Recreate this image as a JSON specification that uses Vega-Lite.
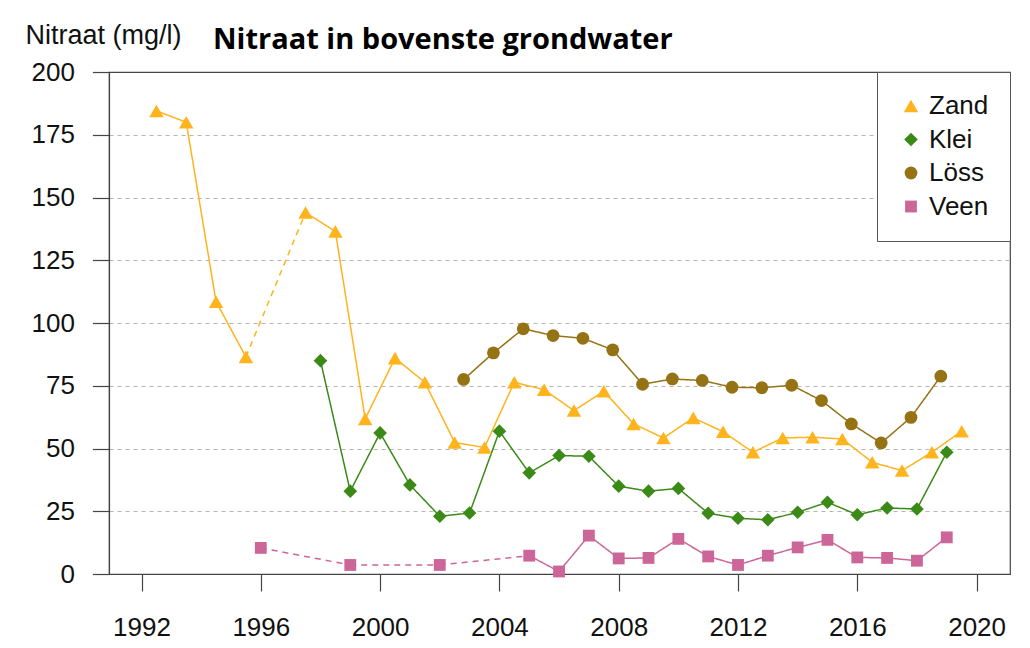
{
  "$schema": "https://vega.github.io/schema/vega-lite/v6.json",
  "width": 901,
  "height": 502,
  "autosize": {"type": "none"},
  "padding": {"left": 109, "top": 72, "right": 20, "bottom": 74},
  "background": "white",
  "title": {
    "text": "Nitraat in bovenste grondwater",
    "anchor": "start",
    "frame": "group",
    "dx": 104,
    "offset": -57,
    "baseline": "alphabetic",
    "font": "Open Sans",
    "fontWeight": 700,
    "fontSize": 29,
    "color": "#000000"
  },
  "datasets": {
    "metingen": [
      {"grondsoort": "Zand", "jaar": 1992.5, "nitraat": 184.5},
      {"grondsoort": "Zand", "jaar": 1993.5, "nitraat": 180},
      {"grondsoort": "Zand", "jaar": 1994.5, "nitraat": 108.5},
      {"grondsoort": "Zand", "jaar": 1995.5, "nitraat": 86.5},
      {"grondsoort": "Zand", "jaar": 1997.5, "nitraat": 144},
      {"grondsoort": "Zand", "jaar": 1998.5, "nitraat": 136.5},
      {"grondsoort": "Zand", "jaar": 1999.5, "nitraat": 61.8},
      {"grondsoort": "Zand", "jaar": 2000.5, "nitraat": 86},
      {"grondsoort": "Zand", "jaar": 2001.5, "nitraat": 76.4},
      {"grondsoort": "Zand", "jaar": 2002.5, "nitraat": 52.4},
      {"grondsoort": "Zand", "jaar": 2003.5, "nitraat": 50.4},
      {"grondsoort": "Zand", "jaar": 2004.5, "nitraat": 76.4},
      {"grondsoort": "Zand", "jaar": 2005.5, "nitraat": 73.4},
      {"grondsoort": "Zand", "jaar": 2006.5, "nitraat": 65.1},
      {"grondsoort": "Zand", "jaar": 2007.5, "nitraat": 72.8},
      {"grondsoort": "Zand", "jaar": 2008.5, "nitraat": 59.8},
      {"grondsoort": "Zand", "jaar": 2009.5, "nitraat": 54.2},
      {"grondsoort": "Zand", "jaar": 2010.5, "nitraat": 62.2},
      {"grondsoort": "Zand", "jaar": 2011.5, "nitraat": 56.7},
      {"grondsoort": "Zand", "jaar": 2012.5, "nitraat": 48.5},
      {"grondsoort": "Zand", "jaar": 2013.5, "nitraat": 54.2},
      {"grondsoort": "Zand", "jaar": 2014.5, "nitraat": 54.5},
      {"grondsoort": "Zand", "jaar": 2015.5, "nitraat": 53.8},
      {"grondsoort": "Zand", "jaar": 2016.5, "nitraat": 44.5},
      {"grondsoort": "Zand", "jaar": 2017.5, "nitraat": 41.2},
      {"grondsoort": "Zand", "jaar": 2018.5, "nitraat": 48.5},
      {"grondsoort": "Zand", "jaar": 2019.5, "nitraat": 56.9},
      {"grondsoort": "Klei", "jaar": 1998, "nitraat": 85},
      {"grondsoort": "Klei", "jaar": 1999, "nitraat": 33},
      {"grondsoort": "Klei", "jaar": 2000, "nitraat": 56.2},
      {"grondsoort": "Klei", "jaar": 2001, "nitraat": 35.5},
      {"grondsoort": "Klei", "jaar": 2002, "nitraat": 23},
      {"grondsoort": "Klei", "jaar": 2003, "nitraat": 24.3},
      {"grondsoort": "Klei", "jaar": 2004, "nitraat": 56.9},
      {"grondsoort": "Klei", "jaar": 2005, "nitraat": 40.3},
      {"grondsoort": "Klei", "jaar": 2006, "nitraat": 47.2},
      {"grondsoort": "Klei", "jaar": 2007, "nitraat": 46.9},
      {"grondsoort": "Klei", "jaar": 2008, "nitraat": 35},
      {"grondsoort": "Klei", "jaar": 2009, "nitraat": 33},
      {"grondsoort": "Klei", "jaar": 2010, "nitraat": 34.1},
      {"grondsoort": "Klei", "jaar": 2011, "nitraat": 24.2},
      {"grondsoort": "Klei", "jaar": 2012, "nitraat": 22.2},
      {"grondsoort": "Klei", "jaar": 2013, "nitraat": 21.6},
      {"grondsoort": "Klei", "jaar": 2014, "nitraat": 24.6},
      {"grondsoort": "Klei", "jaar": 2015, "nitraat": 28.6},
      {"grondsoort": "Klei", "jaar": 2016, "nitraat": 23.6},
      {"grondsoort": "Klei", "jaar": 2017, "nitraat": 26.3},
      {"grondsoort": "Klei", "jaar": 2018, "nitraat": 25.9},
      {"grondsoort": "Klei", "jaar": 2019, "nitraat": 48.5},
      {"grondsoort": "Löss", "jaar": 2002.8, "nitraat": 77.5},
      {"grondsoort": "Löss", "jaar": 2003.8, "nitraat": 88.1},
      {"grondsoort": "Löss", "jaar": 2004.8, "nitraat": 97.7},
      {"grondsoort": "Löss", "jaar": 2005.8, "nitraat": 95},
      {"grondsoort": "Löss", "jaar": 2006.8, "nitraat": 93.9},
      {"grondsoort": "Löss", "jaar": 2007.8, "nitraat": 89.3},
      {"grondsoort": "Löss", "jaar": 2008.8, "nitraat": 75.6},
      {"grondsoort": "Löss", "jaar": 2009.8, "nitraat": 77.7},
      {"grondsoort": "Löss", "jaar": 2010.8, "nitraat": 77.1},
      {"grondsoort": "Löss", "jaar": 2011.8, "nitraat": 74.4},
      {"grondsoort": "Löss", "jaar": 2012.8, "nitraat": 74.2},
      {"grondsoort": "Löss", "jaar": 2013.8, "nitraat": 75.2},
      {"grondsoort": "Löss", "jaar": 2014.8, "nitraat": 69.1},
      {"grondsoort": "Löss", "jaar": 2015.8, "nitraat": 59.8},
      {"grondsoort": "Löss", "jaar": 2016.8, "nitraat": 52.2},
      {"grondsoort": "Löss", "jaar": 2017.8, "nitraat": 62.4},
      {"grondsoort": "Löss", "jaar": 2018.8, "nitraat": 78.8},
      {"grondsoort": "Veen", "jaar": 1996, "nitraat": 10.4},
      {"grondsoort": "Veen", "jaar": 1999, "nitraat": 3.6},
      {"grondsoort": "Veen", "jaar": 2002, "nitraat": 3.6},
      {"grondsoort": "Veen", "jaar": 2005, "nitraat": 7.3},
      {"grondsoort": "Veen", "jaar": 2006, "nitraat": 1},
      {"grondsoort": "Veen", "jaar": 2007, "nitraat": 15.3},
      {"grondsoort": "Veen", "jaar": 2008, "nitraat": 6.2},
      {"grondsoort": "Veen", "jaar": 2009, "nitraat": 6.4},
      {"grondsoort": "Veen", "jaar": 2010, "nitraat": 14},
      {"grondsoort": "Veen", "jaar": 2011, "nitraat": 7},
      {"grondsoort": "Veen", "jaar": 2012, "nitraat": 3.6},
      {"grondsoort": "Veen", "jaar": 2013, "nitraat": 7.3},
      {"grondsoort": "Veen", "jaar": 2014, "nitraat": 10.6},
      {"grondsoort": "Veen", "jaar": 2015, "nitraat": 13.6},
      {"grondsoort": "Veen", "jaar": 2016, "nitraat": 6.6},
      {"grondsoort": "Veen", "jaar": 2017, "nitraat": 6.4},
      {"grondsoort": "Veen", "jaar": 2018, "nitraat": 5.3},
      {"grondsoort": "Veen", "jaar": 2019, "nitraat": 14.6}
    ]
  },
  "data": {"name": "metingen"},
  "encoding": {
    "x": {
      "field": "jaar",
      "type": "quantitative",
      "scale": {"domain": [1990.91, 2021.12], "nice": false, "zero": false},
      "axis": {
        "values": [1992, 1996, 2000, 2004, 2008, 2012, 2016, 2020],
        "format": "d",
        "title": null,
        "grid": false,
        "tickSize": 17,
        "labelPadding": 23,
        "labelFlush": false
      }
    },
    "y": {
      "field": "nitraat",
      "type": "quantitative",
      "scale": {"domain": [0, 200], "nice": false},
      "axis": {
        "values": [0, 25, 50, 75, 100, 125, 150, 175, 200],
        "title": "Nitraat (mg/l)",
        "titleAngle": 0,
        "titleAlign": "left",
        "titleBaseline": "alphabetic",
        "titleX": -84,
        "titleY": -29,
        "titleFont": "Liberation Sans",
        "titleFontSize": 27,
        "titleFontWeight": "normal",
        "titleColor": "#111111",
        "grid": true,
        "gridOpacity": {"condition": {"test": "datum.value <= 0 || datum.value >= 200", "value": 0}, "value": 1},
        "tickSize": 16.6,
        "labelPadding": 18
      }
    }
  },
  "layer": [
    {
      "transform": [
        {
          "window": [
            {"op": "lead", "field": "jaar", "as": "jaar_volgend"},
            {"op": "lead", "field": "nitraat", "as": "nitraat_volgend"}
          ],
          "groupby": ["grondsoort"],
          "sort": [{"field": "jaar", "order": "ascending"}]
        },
        {"filter": "datum.jaar_volgend != null"}
      ],
      "mark": {"type": "rule", "strokeWidth": 1.5},
      "encoding": {
        "x2": {"field": "jaar_volgend"},
        "y2": {"field": "nitraat_volgend"},
        "color": {
          "field": "grondsoort",
          "type": "nominal",
          "scale": {"domain": ["Zand", "Klei", "Löss", "Veen"], "range": ["#FFB31C", "#3B8A18", "#957214", "#CC6699"]},
          "legend": {"title": null}
        },
        "strokeDash": {
          "condition": {"test": "datum.jaar_volgend - datum.jaar > 1.5", "value": [6, 5]},
          "value": [1, 0]
        }
      }
    },
    {
      "mark": {"type": "point", "filled": true, "opacity": 1},
      "encoding": {
        "color": {
          "field": "grondsoort",
          "type": "nominal",
          "scale": {"domain": ["Zand", "Klei", "Löss", "Veen"], "range": ["#FFB31C", "#3B8A18", "#957214", "#CC6699"]},
          "legend": {"title": null}
        },
        "shape": {
          "field": "grondsoort",
          "type": "nominal",
          "scale": {"domain": ["Zand", "Klei", "Löss", "Veen"], "range": ["triangle-up", "diamond", "circle", "square"]},
          "legend": {"title": null}
        },
        "size": {
          "field": "grondsoort",
          "type": "nominal",
          "scale": {"domain": ["Zand", "Klei", "Löss", "Veen"], "range": [210, 140, 135, 150]},
          "legend": null
        }
      }
    }
  ],
  "config": {
    "view": {"stroke": "#444444", "strokeWidth": 1.2},
    "font": "Liberation Sans",
    "axis": {
      "labelFont": "Liberation Sans",
      "labelFontSize": 26,
      "labelColor": "#111111",
      "tickColor": "#444444",
      "domainColor": "#444444",
      "tickWidth": 1.2,
      "domainWidth": 1.2,
      "gridColor": "#b5b5b5",
      "gridDash": [4, 4],
      "gridWidth": 1
    },
    "legend": {
      "orient": "top-right",
      "offset": 0,
      "strokeColor": "#555555",
      "fillColor": "#ffffff",
      "padding": 21,
      "labelFont": "Liberation Sans",
      "labelFontSize": 26,
      "labelColor": "#111111",
      "symbolSize": 160,
      "symbolStrokeWidth": 0,
      "rowPadding": 7.5,
      "labelOffset": 5
    }
  }
}
